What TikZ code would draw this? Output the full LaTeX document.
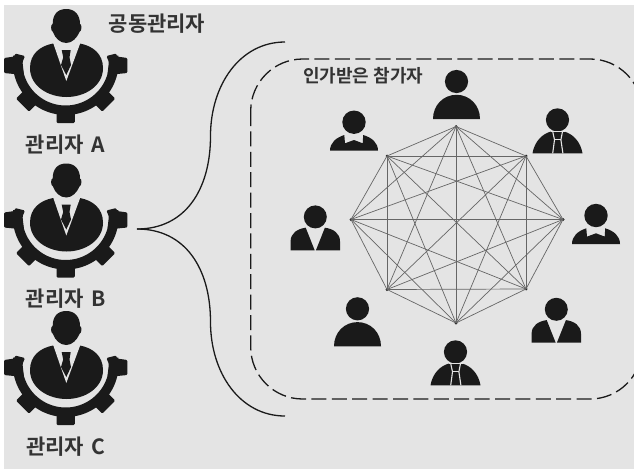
\documentclass[tikz,border=0pt]{standalone}
\usepackage{fontspec}
\setmainfont{Noto Sans CJK KR}[BoldFont=* Bold]
\definecolor{pagebg}{HTML}{E4E4E4}
\definecolor{ink}{HTML}{1A1A1A}
\definecolor{lbl}{HTML}{333333}
\tikzset{
  lbltext/.style={text=lbl,font=\bfseries\fontsize{21}{23}\selectfont,inner sep=0pt},
  sublbl/.style={text=lbl,font=\bfseries\fontsize{18}{20}\selectfont,inner sep=0pt,anchor=west},
  vertexdot/.style={circle,fill=ink,inner sep=0pt,minimum size=3pt},
  meshline/.style={draw=black!60,line width=0.7pt},
  bracket/.style={draw=ink,line width=1.3pt},
  groupbox/.style={draw=ink,line width=1.3pt,dash pattern=on 15pt off 5.4pt,rounded corners=52pt},
  gap/.style={draw=pagebg,line width=1.1pt},
  pics/manager/.style={code={
    % gear
    \fill[ink] plot[domain=-7:187,samples=60] ({65.7+53*cos(\x)},{62+53*sin(\x)})
       -- plot[domain=187:-7,samples=60] ({65.7+43.5*cos(\x)},{62+43.5*sin(\x)}) -- cycle;
    \foreach \a in {-45,0,45}{
      \fill[ink,rounded corners=1.2pt,shift={(65.7,62)},rotate=\a]
        (-9.2,46) -- (9.2,46) -- (9.2,61) -- (-9.2,61) -- cycle;
    }
    \fill[ink,rounded corners=1.2pt] (4,58) -- (14.5,56.5) -- (15,53.5) -- (25,56) -- (22.5,62) -- (24,75) -- (4,73) -- cycle;
    \fill[ink,rounded corners=1.2pt] (127.4,58) -- (116.9,56.5) -- (116.4,53.5) -- (106.4,56) -- (108.9,62) -- (107.4,75) -- (127.4,73) -- cycle;
    % body
    \fill[ink] (53,43.5) .. controls (40,46) and (30,54) .. (30,68)
       .. controls (30,86) and (48,97) .. (66.5,97)
       .. controls (85,97) and (103,86) .. (103,68)
       .. controls (103,54) and (93,46) .. (80,43.5) -- cycle;
    \fill[pagebg] (53,42.5) -- (66.3,81) -- (80.5,42.5) -- cycle;
    \fill[ink] (61.7,50) -- (70.7,50) -- (69.5,57.5) -- (71,65) -- (66.3,75) -- (61,65) -- (63.2,57.5) -- cycle;
    % head
    \fill[ink] (66.3,9) .. controls (75,9) and (80,15) .. (80,24)
       .. controls (82,24) and (82,31) .. (79.5,32)
       .. controls (77,38) and (72,43) .. (66.3,43)
       .. controls (60,43) and (55,38) .. (53,32)
       .. controls (50.5,31) and (50.5,24) .. (52.7,24)
       .. controls (52.7,15) and (57,9) .. (66.3,9) -- cycle;
  }},
  pics/plainperson/.style={code={
    \fill[ink] (0,-37.5) circle (11.6);
    \fill[ink] (-23.5,0) .. controls (-23.5,-14) and (-13,-24.2) .. (0,-24.2)
       .. controls (13,-24.2) and (23.5,-14) .. (23.5,0) -- cycle;
  }},
  pics/bowperson/.style={code={
    \fill[ink] (0,-28.5) circle (11.7);
    \fill[ink] (-24,0) .. controls (-24,-8) and (-18,-13) .. (-9.7,-15.7)
       -- (-9,-7.4) -- (0,-10.7) -- (8.7,-7.4) -- (9.2,-15.7)
       .. controls (18,-13) and (24,-8) .. (24,0) -- cycle;
  }},
  pics/vperson/.style={code={
    \fill[ink] (0,-33.4) circle (11.5);
    \fill[ink] (-24.7,0) -- (-24.7,-9) .. controls (-24.7,-17) and (-18,-21.5) .. (-9.6,-22.6)
       -- (-0.6,0) -- cycle;
    \fill[ink] (24.7,0) -- (24.7,-9) .. controls (24.7,-17) and (18,-21.5) .. (9.6,-22.6)
       -- (0.6,0) -- cycle;
  }},
  pics/tieperson/.style={code={
    \fill[ink] (0,-33.4) circle (11.6);
    \fill[ink] (-25,0) .. controls (-23,-12) and (-15,-19.5) .. (-7,-21.6)
       -- (7,-21.6) .. controls (15,-19.5) and (23,-12) .. (25,0) -- cycle;
    \draw[gap] (-4.8,0) -- (-3,-13.5) -- (-4.8,-21.8);
    \draw[gap] (5.4,0) -- (3.4,-13.5) -- (5,-21.8);
    \draw[gap] (-3,-13.5) -- (3.4,-13.5);
    \draw[gap] (-7,-22.2) -- (7,-22.2);
  }}
}
\begin{document}
\begin{tikzpicture}[x=1pt,y=-1pt]
\useasboundingbox (0,0) rectangle (634,469);
\clip (0,0) rectangle (634,469);
\fill[white] (0,0) rectangle (634,469);
\fill[pagebg] (4,5) rectangle (634,469);

% managers
\pic (mgrA) at (0,0) {manager};
\pic (mgrB) at (0,154.5) {manager};
\pic (mgrC) at (0,302) {manager};
\node[lbltext] (co) at (157,23.5) {공동관리자};
\node[lbltext] (la) at (65.5,145) {관리자\hspace{3pt} A};
\node[lbltext] (lb) at (66,299) {관리자\hspace{3pt} B};
\node[lbltext] (lc) at (66,447) {관리자\hspace{3pt} C};

% bracket
\coordinate (brTip) at (137,229);
\coordinate (brTop) at (285,42);
\coordinate (brBot) at (285,416);
\draw[bracket] (brTip) .. controls (185,229) and (210.5,190) .. (210.5,136)
   .. controls (210.5,85) and (240,42) .. (brTop);
\draw[bracket] (brTip) .. controls (185,229) and (210.5,268) .. (210.5,322)
   .. controls (210.5,373) and (240,416) .. (brBot);

% group box
\coordinate (boxA) at (250.7,59);
\coordinate (boxB) at (642,399);
\draw[groupbox] (boxA) rectangle (boxB);
\node[sublbl] (part) at (303,75.5) {인가받은 참가자};

% mesh
\node[vertexdot] (v1) at (456,126.5) {};
\node[vertexdot] (v2) at (526,156) {};
\node[vertexdot] (v3) at (563,219.5) {};
\node[vertexdot] (v4) at (526,289) {};
\node[vertexdot] (v5) at (456,323) {};
\node[vertexdot] (v6) at (387,289.5) {};
\node[vertexdot] (v7) at (351,219.5) {};
\node[vertexdot] (v8) at (387,156) {};
\foreach \p/\q in {1/2,1/3,1/4,1/5,1/6,1/7,1/8,2/3,2/4,2/5,2/6,2/7,2/8,3/4,3/5,3/6,3/7,3/8,4/5,4/6,4/7,4/8,5/6,5/7,5/8,6/7,6/8,7/8}{
  \draw[meshline] (v\p.center) -- (v\q.center);
}

% participants
\pic (p1) at (456.5,119) {plainperson};
\pic (p2) at (354,150.7) {bowperson};
\pic (p3) at (315.3,250.3) {vperson};
\pic (p4) at (557.5,153.3) {tieperson};
\pic (p5) at (596,244) {bowperson};
\pic (p6) at (357.5,346.3) {plainperson};
\pic (p7) at (455.5,385.3) {tieperson};
\pic (p8) at (556.3,342.7) {vperson};
\end{tikzpicture}
\end{document}
